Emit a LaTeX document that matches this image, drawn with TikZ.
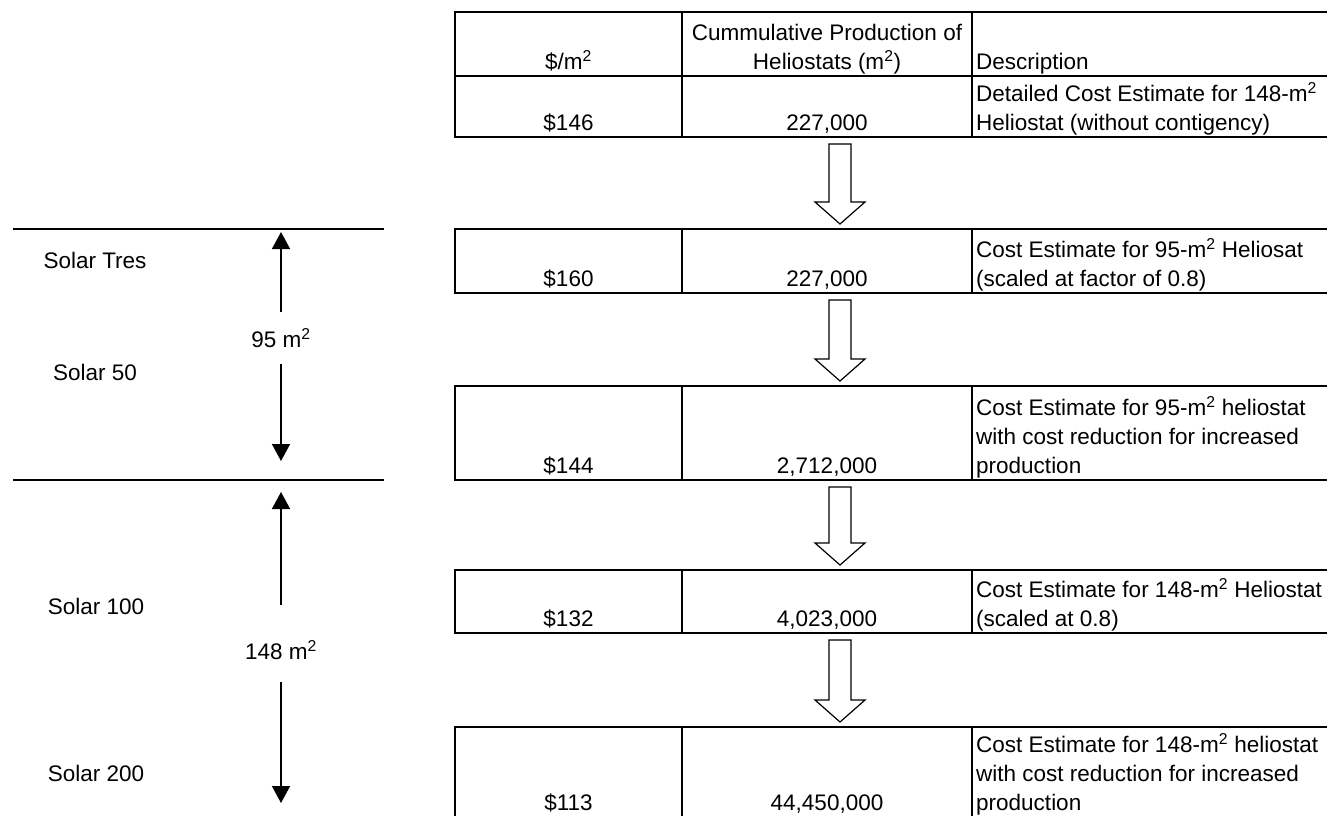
\documentclass[tikz,border=0pt]{standalone}
\usepackage{fontspec}
\setmainfont{Liberation Sans}
\usetikzlibrary{arrows.meta,calc,positioning}
\tikzset{%
    cell/.style   = {draw, line width=2.5pt, rectangle, outer sep=0pt, inner sep=0pt},
    txt/.style    = {inner sep=0pt, anchor=base},
    desc/.style   = {inner sep=0pt, anchor=base west, align=left},
    bar/.style    = {line width=2.5pt},
    dim/.style    = {line width=1.5pt, -{Triangle[width=18pt,length=17pt]}},
    hollow/.style = {draw, line width=1.2pt, fill=white, line join=miter},
}
% hollow down arrow between two table rows
\newcommand{\hollowarrow}[2]{%
    \draw[hollow] let \p1 = (#1), \p2 = (#2) in
        (\x1+2pt,\y1-7pt) -- (\x1+24pt,\y1-7pt) -- (\x1+24pt,\y2+27pt)
        -- (\x1+38pt,\y2+27pt) -- (\x1+13pt,\y2+5pt) -- (\x1-12pt,\y2+27pt)
        -- (\x1+2pt,\y2+27pt) -- cycle;}

\begin{document}
\begin{tikzpicture}[x=1pt, y=-1pt, font=\fontsize{22.5}{29}\selectfont]
    \useasboundingbox (0,0) rectangle (1327,815);
    \clip (0,0) rectangle (1327,815);

    % Left side: plants and heliostat sizes
    \draw[bar] (13,229) -- (384,229);
    \draw[bar] (13,480) -- (384,480);
    \node (tres) at (95,260) {Solar Tres};
    \node (s50) at (95,372) {Solar 50};
    \node (s100) at (96,606) {Solar 100};
    \node (s200) at (96,773) {Solar 200};

    \node [inner sep=0pt, minimum height=51pt] (m95) at (281,338) {95 m\textsuperscript{2}};
    \coordinate (m95_top) at (281,232);
    \coordinate (m95_bot) at (281,461);
    \draw[dim] (m95.north) -- (m95_top);
    \draw[dim] (m95.south) -- (m95_bot);

    \node [inner sep=0pt, minimum height=64pt] (m148) at (281,650) {148 m\textsuperscript{2}};
    \coordinate (m148_top) at (281,492);
    \coordinate (m148_bot) at (281,803);
    \draw[dim] ([yshift=13pt]m148.north) -- (m148_top);
    \draw[dim] (m148.south) -- (m148_bot);

    % Header
    \node [cell, anchor=north west, minimum width=227pt, minimum height=64pt] (h_a) at (455,12) {};
    \node [cell, right=0pt of h_a, minimum width=290pt, minimum height=64pt] (h_b) {};
    \node [cell, right=0pt of h_b, minimum width=368pt, minimum height=64pt] (h_c) {};
    \node [txt] (h_at) at ([yshift=7pt]h_a.south) {\$/m\textsuperscript{2}};
    \node [txt, align=center] (h_bt) at ([yshift=7pt]h_b.south) {Cummulative Production of\\Heliostats (m\textsuperscript{2})};
    \node [desc] (h_ct) at ([xshift=4pt,yshift=7pt]h_c.south west) {Description};

    % Row 1
    \node [cell, below=0pt of h_a, minimum width=227pt, minimum height=61pt] (r1_a) {};
    \node [cell, right=0pt of r1_a, minimum width=290pt, minimum height=61pt] (r1_b) {};
    \node [cell, right=0pt of r1_b, minimum width=368pt, minimum height=61pt] (r1_c) {};
    \node [txt] (r1_at) at ([yshift=7pt]r1_a.south) {\$146};
    \node [txt] (r1_bt) at ([yshift=7pt]r1_b.south) {227,000};
    \node [desc] (r1_ct) at ([xshift=4pt,yshift=7pt]r1_c.south west) {Detailed Cost Estimate for 148-m\textsuperscript{2}\\Heliostat (without contigency)};

    % Row 2
    \node [cell, anchor=north west, minimum width=227pt, minimum height=64pt] (r2_a) at (455,229) {};
    \node [cell, right=0pt of r2_a, minimum width=290pt, minimum height=64pt] (r2_b) {};
    \node [cell, right=0pt of r2_b, minimum width=368pt, minimum height=64pt] (r2_c) {};
    \node [txt] (r2_at) at ([yshift=7pt]r2_a.south) {\$160};
    \node [txt] (r2_bt) at ([yshift=7pt]r2_b.south) {227,000};
    \node [desc] (r2_ct) at ([xshift=4pt,yshift=7pt]r2_c.south west) {Cost Estimate for 95-m\textsuperscript{2} Heliosat\\(scaled at factor of 0.8)};

    % Row 3
    \node [cell, anchor=north west, minimum width=227pt, minimum height=94pt] (r3_a) at (455,386) {};
    \node [cell, right=0pt of r3_a, minimum width=290pt, minimum height=94pt] (r3_b) {};
    \node [cell, right=0pt of r3_b, minimum width=368pt, minimum height=94pt] (r3_c) {};
    \node [txt] (r3_at) at ([yshift=7pt]r3_a.south) {\$144};
    \node [txt] (r3_bt) at ([yshift=7pt]r3_b.south) {2,712,000};
    \node [desc] (r3_ct) at ([xshift=4pt,yshift=7pt]r3_c.south west) {Cost Estimate for 95-m\textsuperscript{2} heliostat\\with cost reduction for increased\\production};

    % Row 4
    \node [cell, anchor=north west, minimum width=227pt, minimum height=63pt] (r4_a) at (455,570) {};
    \node [cell, right=0pt of r4_a, minimum width=290pt, minimum height=63pt] (r4_b) {};
    \node [cell, right=0pt of r4_b, minimum width=368pt, minimum height=63pt] (r4_c) {};
    \node [txt] (r4_at) at ([yshift=7pt]r4_a.south) {\$132};
    \node [txt] (r4_bt) at ([yshift=7pt]r4_b.south) {4,023,000};
    \node [desc] (r4_ct) at ([xshift=4pt,yshift=7pt]r4_c.south west) {Cost Estimate for 148-m\textsuperscript{2} Heliostat\\(scaled at 0.8)};

    % Row 5 (its bottom edge lies just below the picture)
    \node [cell, anchor=north west, minimum width=227pt, minimum height=91pt] (r5_a) at (455,727) {};
    \node [cell, right=0pt of r5_a, minimum width=290pt, minimum height=91pt] (r5_b) {};
    \node [cell, right=0pt of r5_b, minimum width=368pt, minimum height=91pt] (r5_c) {};
    \node [txt] (r5_at) at ([yshift=8pt]r5_a.south) {\$113};
    \node [txt] (r5_bt) at ([yshift=8pt]r5_b.south) {44,450,000};
    \node [desc] (r5_ct) at ([xshift=4pt,yshift=8pt]r5_c.south west) {Cost Estimate for 148-m\textsuperscript{2} heliostat\\with cost reduction for increased\\production};

    % Arrows between the estimates
    \hollowarrow{r1_b.south}{r2_b.north}
    \hollowarrow{r2_b.south}{r3_b.north}
    \hollowarrow{r3_b.south}{r4_b.north}
    \hollowarrow{r4_b.south}{r5_b.north}

\end{tikzpicture}
\end{document}
